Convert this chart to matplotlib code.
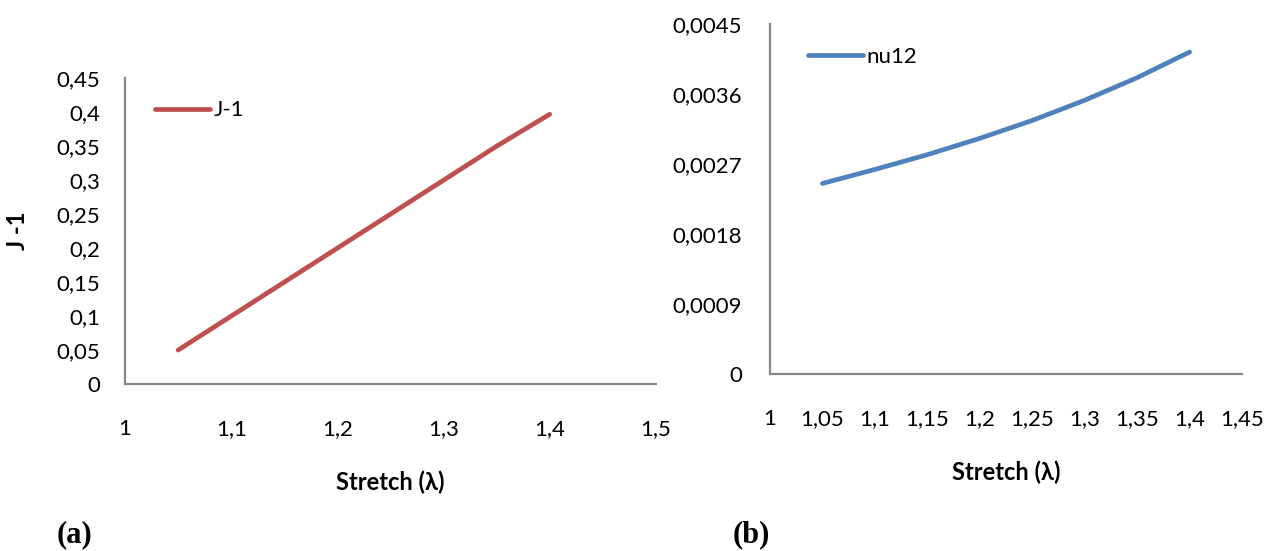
import matplotlib
matplotlib.use("Agg")
import matplotlib.pyplot as plt
from matplotlib.ticker import FuncFormatter

# data
stretch = [1.05, 1.10, 1.15, 1.20, 1.25, 1.30, 1.35, 1.40]
j_minus_1 = [0.05, 0.10, 0.15, 0.20, 0.25, 0.30, 0.35, 0.397]
nu12 = [0.00245, 0.00263, 0.00282, 0.00303, 0.00326, 0.00352, 0.00381, 0.00414]

left_xticks = [1.0, 1.1, 1.2, 1.3, 1.4, 1.5]
left_yticks = [0, 0.05, 0.1, 0.15, 0.2, 0.25, 0.3, 0.35, 0.4, 0.45]
right_xticks = [1.0, 1.05, 1.1, 1.15, 1.2, 1.25, 1.3, 1.35, 1.4, 1.45]
right_yticks = [0, 0.0009, 0.0018, 0.0027, 0.0036, 0.0045]

_FONT = ["Lato", "DejaVu Sans"]
_RED = "#C0504D"
_BLUE = "#4F81BD"
_AXIS = "#878787"
_TICK_FS = 16
_LABEL_FS = 17

plt.rcParams["font.family"] = _FONT


def comma_g(v, _):
    return ("%g" % round(v, 2)).replace(".", ",")


def style_axes(ax, xpad, ypad):
    for s in ("top", "right"):
        ax.spines[s].set_visible(False)
    for s in ("left", "bottom"):
        ax.spines[s].set_color(_AXIS)
        ax.spines[s].set_linewidth(1.6)
    ax.tick_params(axis="both", length=0, labelsize=_TICK_FS, colors="black")
    ax.tick_params(axis="x", pad=xpad)
    ax.tick_params(axis="y", pad=ypad)


def add_legend(ax, anchor):
    ax.legend(loc="center left", bbox_to_anchor=anchor, frameon=False, handlelength=2.5,
              handletextpad=0.15, fontsize=_TICK_FS, borderaxespad=0, borderpad=0)


fig = plt.figure(figsize=(12.76, 5.51), dpi=100)

# (a) J-1
ax1 = fig.add_axes([0.098, 0.303, 0.416, 0.555])
ax1.plot(stretch, j_minus_1, color=_RED, linewidth=3.4, solid_capstyle="round", label="J-1")
ax1.set_xlim(1.0, 1.5)
ax1.set_ylim(0, 0.45)
ax1.set_xticks(left_xticks)
ax1.set_yticks(left_yticks)
ax1.xaxis.set_major_formatter(FuncFormatter(comma_g))
ax1.yaxis.set_major_formatter(FuncFormatter(comma_g))
style_axes(ax1, 25, 18)
ax1.set_xlabel("Stretch (λ)", fontweight="bold", fontsize=_LABEL_FS, labelpad=23)
ax1.set_ylabel("J -1", fontweight="bold", fontsize=_LABEL_FS, labelpad=20)
add_legend(ax1, (0.056, 0.895))

# (b) nu12
ax2 = fig.add_axes([0.6034, 0.3212, 0.370, 0.6352])
ax2.plot(stretch, nu12, color=_BLUE, linewidth=3.4, solid_capstyle="round",
         solid_joinstyle="round", label="nu12")
ax2.set_xlim(1.0, 1.45)
ax2.set_ylim(0, 0.0045)
ax2.set_xticks(right_xticks)
ax2.set_yticks(right_yticks)
ax2.xaxis.set_major_formatter(FuncFormatter(comma_g))
ax2.yaxis.set_major_formatter(FuncFormatter(lambda v, _: "0" if v == 0 else ("%.4f" % v).replace(".", ",")))
style_axes(ax2, 25, 20)
ax2.set_xlabel("Stretch (λ)", fontweight="bold", fontsize=_LABEL_FS, labelpad=23)
add_legend(ax2, (0.0805, 0.906))

fig.text(0.0447, 0.029, "(a)", fontsize=22, fontweight="bold", family="Liberation Serif", va="center")
fig.text(0.5745, 0.029, "(b)", fontsize=22, fontweight="bold", family="Liberation Serif", va="center")

fig.savefig("out.png", dpi=100)
